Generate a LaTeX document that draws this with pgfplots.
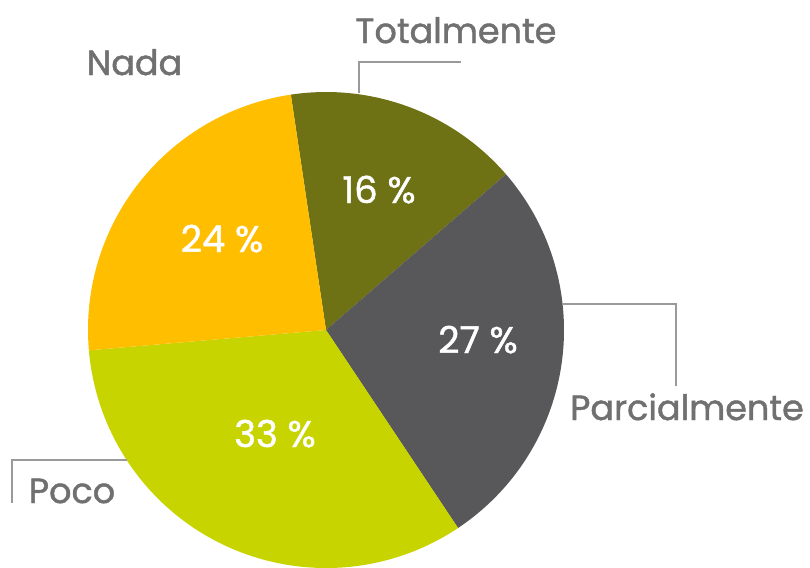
\documentclass[border=0pt]{standalone}
\usepackage{pgfplots}
\usepackage{pgfplotstable}
\pgfplotsset{compat=1.18}
\usepackage{fontspec}
\setmainfont{Poppins}
\newfontfamily\labfont[FakeBold=1.3]{Poppins}
\definecolor{colT}{HTML}{6E7114}
\definecolor{colP}{HTML}{58585A}
\definecolor{colPo}{HTML}{C8D400}
\definecolor{colN}{HTML}{FFBE00}
\definecolor{txt}{HTML}{707070}
\definecolor{lead}{HTML}{9A9A9A}
\pgfplotstableread{
label value
Totalmente 16
Parcialmente 27
Poco 33
Nada 24
}\piedata
\begin{document}
\begin{tikzpicture}
\pgfplotstablegetelem{0}{value}\of\piedata \let\vA\pgfplotsretval
\pgfplotstablegetelem{1}{value}\of\piedata \let\vB\pgfplotsretval
\pgfplotstablegetelem{2}{value}\of\piedata \let\vC\pgfplotsretval
\pgfplotstablegetelem{3}{value}\of\piedata \let\vD\pgfplotsretval
\pgfmathsetmacro\aA{98.5}
\pgfmathsetmacro\aB{\aA-3.6*\vA}
\pgfmathsetmacro\aC{\aB-3.6*\vB}
\pgfmathsetmacro\aD{\aC-3.6*\vC}
\pgfmathsetmacro\aE{\aD-3.6*\vD}
\begin{axis}[
  x=0.5pt, y=0.5pt, scale only axis,
  xmin=0, xmax=810, ymin=0, ymax=568, y dir=reverse,
  hide axis, clip=false, anchor=south west, at={(0,0)},
]
\fill[colT]  (axis cs:326,330) -- ++(\aA:119pt) arc[start angle=\aA, end angle=\aB, radius=119pt] -- cycle;
\fill[colP]  (axis cs:326,330) -- ++(\aB:119pt) arc[start angle=\aB, end angle=\aC, radius=119pt] -- cycle;
\fill[colPo] (axis cs:326,330) -- ++(\aC:119pt) arc[start angle=\aC, end angle=\aD, radius=119pt] -- cycle;
\fill[colN]  (axis cs:326,330) -- ++(\aD:119pt) arc[start angle=\aD, end angle=\aE, radius=119pt] -- cycle;
% leader lines
\draw[lead, line width=0.9pt] (axis cs:359,93) -- (axis cs:359,62) -- (axis cs:461,62);
\draw[lead, line width=0.9pt] (axis cs:563,304) -- (axis cs:676,304) -- (axis cs:676,386);
\draw[lead, line width=0.9pt] (axis cs:127,460) -- (axis cs:12,460) -- (axis cs:12,503);
% percent labels
\begin{scope}[every node/.style={white, anchor=base, inner sep=0pt, font=\labfont\fontsize{18.5}{22}\selectfont}]
\node at (axis cs:379,203) {16 \%};
\node at (axis cs:478,353) {27 \%};
\node at (axis cs:275,447) {33 \%};
\node at (axis cs:222,252) {24 \%};
\end{scope}
\begin{scope}[every node/.style={txt, anchor=base, inner sep=0pt, font=\labfont\fontsize{17.5}{21}\selectfont}]
\node at (axis cs:456,43) {Totalmente};
\node at (axis cs:134.5,75) {Nada};
\node at (axis cs:687,420) {Parcialmente};
\node at (axis cs:72,503) {Poco};
\end{scope}
\end{axis}
\pgfresetboundingbox
\path (0,0) rectangle (405pt,284pt);
\end{tikzpicture}
\end{document}
